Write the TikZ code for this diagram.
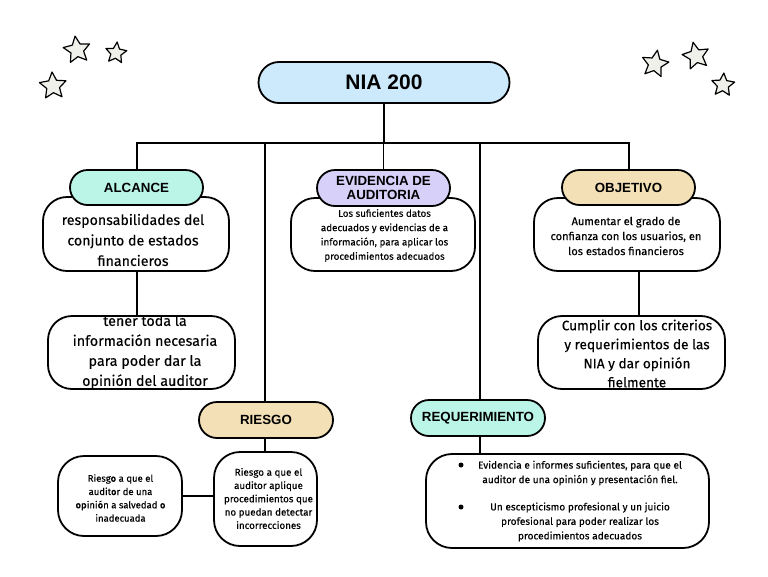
\documentclass[tikz,border=0pt]{standalone}
\usepackage{fontspec}
\setmainfont{Fira Sans}[FakeBold=0.3]
\newfontfamily\hdrfont{Liberation Sans}
\definecolor{niablue}{RGB}{204,234,252}
\definecolor{mint}{RGB}{186,245,232}
\definecolor{lav}{RGB}{215,208,248}
\definecolor{tan}{RGB}{243,224,182}
\definecolor{starfill}{RGB}{240,240,235}
\tikzset{
  conn/.style={line width=1.8pt, line cap=rect},
  pill/.style={draw, line width=1.8pt, rounded corners=17.5pt, minimum width=133pt,
    minimum height=35pt, inner sep=0pt, align=center,
    font=\hdrfont\bfseries\fontsize{13.3}{14}\selectfont},
  box/.style={draw, line width=1.8pt, rounded corners=24pt, fill=white, inner sep=0pt},
  txt/.style={inner sep=0pt, align=center},
  bul/.style={circle, fill=black, inner sep=0pt, minimum size=5pt},
  starst/.style={draw, line width=1.2pt, fill=starfill, line join=round},
}
\begin{document}
\begin{tikzpicture}[x=1pt,y=-1pt]
\useasboundingbox (0,0) rectangle (768,576);

% stars
\foreach \cx/\cy/\r/\rot in {77/50/14/8, 116/53/11/-6, 53/86/14/4, 655/64/14/-10, 696/56/14/12, 723/85/12/-4}{
  \pgfmathsetmacro{\s}{0.48*\r}
  \draw[starst, shift={(\cx,\cy)}, rotate=\rot]
    (270:\r) -- (306:\s) -- (342:\r) -- (18:\s) -- (54:\r) -- (90:\s)
    -- (126:\r) -- (162:\s) -- (198:\r) -- (234:\s) -- cycle;
}

% top node
\node[pill, fill=niablue, minimum width=251pt, minimum height=41pt, rounded corners=20.5pt,
  font=\hdrfont\bfseries\fontsize{21}{24}\selectfont] (nia) at (384,82.5) {NIA 200};

% content boxes
\node[box, minimum width=186pt, minimum height=74pt] (alcb) at (136,234) {};
\node[box, minimum width=187pt, minimum height=73pt] (alcb2) at (141.5,352.5) {};
\node[box, minimum width=184pt, minimum height=73pt] (evib) at (383,234.5) {};
\node[box, minimum width=186pt, minimum height=73pt] (objb) at (627,234.5) {};
\node[box, minimum width=187pt, minimum height=73pt] (objb2) at (631.5,352.5) {};
\node[box, minimum width=103pt, minimum height=94pt, rounded corners=26pt] (rieR) at (265.5,499) {};
\node[box, minimum width=124pt, minimum height=80pt, rounded corners=26pt] (rieL) at (120,496) {};
\node[box, minimum width=283pt, minimum height=94pt, rounded corners=26pt] (reqb) at (567.5,501) {};

% texts
\node[txt, font=\fontsize{14.2}{20.5}\selectfont] (alct) at (133,240)
  {responsabilidades del\\conjunto de estados\\financieros};
\node[txt, font=\fontsize{14.3}{20}\selectfont] (alc2t) at (145,352)
  {tener toda la\\información necesaria\\para poder dar la\\opinión del auditor};
\node[txt, font=\fontsize{9.8}{14.3}\selectfont] (evit) at (384.5,235.5)
  {Los suficientes datos\\adecuados y evidencias de a\\información, para aplicar los\\procedimientos adecuados};
\node[txt, font=\fontsize{11.1}{15}\selectfont] (objt) at (626,236)
  {Aumentar el grado de\\confianza con los usuarios, en\\los estados financieros};
\node[txt, font=\fontsize{13.6}{19}\selectfont] (obj2t) at (637,353.5)
  {Cumplir con los criterios\\y requerimientos de las\\NIA y dar opinión\\fielmente};
\node[txt, font=\fontsize{9.5}{13.3}\selectfont] (rieLt) at (120.5,498)
  {Riesgo a que el\\auditor de una\\opinión a salvedad o\\inadecuada};
\node[txt, font=\fontsize{9.8}{13.3}\selectfont] (rieRt) at (268.5,498.5)
  {Riesgo a que el\\auditor aplique\\procedimientos que\\no puedan detectar\\incorrecciones};
\node[txt, font=\fontsize{10.1}{14.5}\selectfont] (req1t) at (580,473)
  {Evidencia e informes suficientes, para que el\\auditor de una opinión y presentación fiel.};
\node[txt, font=\fontsize{10.1}{14.5}\selectfont] (req2t) at (580,522)
  {Un escepticismo profesional y un juicio\\profesional para poder realizar los\\procedimientos adecuados};
\node[bul] (bul1) at (461,465) {};
\node[bul] (bul2) at (461,507) {};

% header pills
\node[pill, fill=mint] (alc) at (136.5,187.5) {ALCANCE};
\node[pill, fill=lav, minimum height=36pt, rounded corners=18pt] (evi) at (383.5,188) {EVIDENCIA DE\\AUDITORIA};
\node[pill, fill=tan] (obj) at (628.5,187.5) {OBJETIVO};
\node[pill, fill=tan, minimum width=134pt, minimum height=36pt, rounded corners=18pt] (rie) at (266,420) {RIESGO};
\node[pill, fill=mint, minimum width=134pt, minimum height=36pt, rounded corners=18pt] (req) at (478,418) {REQUERIMIENTO};

% connectors
\coordinate (hL) at (137,143);
\coordinate (hR) at (629,143);
\draw[conn] (nia.south) -- (nia.south |- hL);
\draw[conn] (hL) -- (hR);
\draw[conn] (hL) -- (hL |- alc.north);
\draw[conn] (hR) -- (hR |- obj.north);
\draw[conn] (evi.north) -- (evi.north |- hL);
\draw[conn] ([xshift=-1pt]rie.north) -- ([xshift=-1pt]rie.north |- hL);
\draw[conn] ([xshift=2pt]req.north) -- ([xshift=2pt]req.north |- hL);
\draw[conn] ([xshift=1pt]alcb.south) -- ([xshift=1pt]alcb.south |- alcb2.north);
\draw[conn] ([xshift=12pt]objb.south) -- ([xshift=12pt]objb.south |- objb2.north);
\draw[conn] ([xshift=-1pt]rie.south) -- ([xshift=-1pt]rie.south |- rieR.north);
\draw[conn] (rieL.east) -- (rieL.east -| rieR.west);
\draw[conn] ([xshift=2pt]req.south) -- ([xshift=2pt]req.south |- reqb.north);
\end{tikzpicture}
\end{document}
